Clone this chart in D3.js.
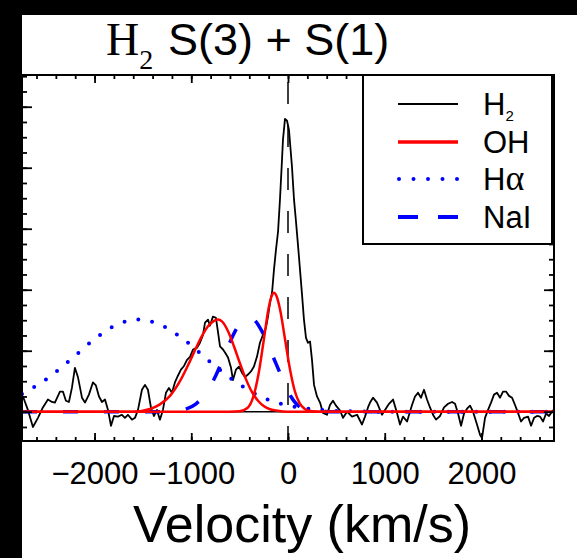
<!DOCTYPE html>
<html>
<head>
<meta charset="utf-8">
<script src="https://cdn.jsdelivr.net/npm/d3@7"></script>
<style>
  body { margin: 0; background: #fff; }
  svg { display: block; }
</style>
</head>
<body>
<svg id="chart" width="577" height="558"></svg>
<script>
// ---- H2 S(3)+S(1) spectrum: velocity (km/s) and normalised flux ----
const h2Vel = [-2740,-2689,-2637,-2585,-2534,-2482,-2440,-2410,-2358,-2327,-2296,-2265,-2234,-2203,-2172,-2130,-2099,-2058,-2017,-1986,-1954,-1923,-1892,-1861,-1830,-1799,-1758,-1717,-1686,-1655,-1613,-1582,-1551,-1510,-1479,-1448,-1417,-1386,-1355,-1324,-1293,-1262,-1231,-1200,-1169,-1138,-1107,-1075,-1044,-1013,-982,-941,-910,-879,-858,-827,-807,-776,-745,-724,-703,-672,-651,-620,-589,-569,-538,-507,-476,-445,-414,-383,-352,-321,-290,-259,-228,-207,-186,-165,-145,-124,-103,-83,-62,-52,-31,-10,10,21,41,62,83,103,124,145,165,186,207,228,248,269,300,331,362,403,434,465,496,538,569,610,662,714,765,796,827,848,879,920,972,1003,1044,1086,1127,1158,1189,1231,1282,1313,1344,1375,1406,1437,1468,1499,1530,1572,1613,1655,1696,1727,1758,1789,1820,1851,1882,1913,1954,1986,2006,2037,2068,2099,2130,2161,2192,2223,2254,2285,2316,2347,2378,2409,2440,2482,2513,2544,2575,2606,2637,2668,2699,2740];
const h2Flux = [0.25,0.03,-0.25,-0.10,0.07,0.20,0.16,0.15,0.33,0.33,0.18,0.16,0.39,0.72,0.57,0.23,0.15,0.28,0.48,0.43,0.25,0.16,0.20,0.03,-0.23,-0.07,-0.08,-0.05,-0.10,-0.05,-0.13,-0.10,0.03,0.36,0.44,0.36,0.07,-0.07,0.03,-0.13,0.03,0.31,0.39,0.31,0.48,0.59,0.69,0.75,0.85,0.90,1.02,1.05,1.13,1.26,1.46,1.51,1.41,1.56,1.54,1.31,1.07,1.02,0.97,0.89,0.72,0.52,0.69,0.74,0.64,0.57,0.61,0.66,0.74,0.90,1.13,1.26,1.38,1.56,1.79,1.95,2.33,2.66,2.95,3.48,4.13,4.46,4.80,4.77,4.62,4.41,4.02,3.48,3.11,2.74,2.33,1.92,1.51,1.21,1.13,1.15,0.85,0.44,0.25,0.15,-0.02,-0.05,0.11,0.18,0.10,0.02,-0.10,0.00,-0.08,-0.05,-0.21,-0.08,0.07,0.15,0.23,0.15,-0.05,0.03,0.13,0.20,-0.02,-0.21,-0.08,-0.16,0.11,0.25,0.31,0.23,0.36,0.20,0.07,-0.05,-0.13,-0.07,0.07,0.13,0.16,0.13,-0.03,-0.23,-0.03,0.05,0.10,0.00,-0.21,-0.38,-0.43,-0.10,0.03,0.15,0.28,0.31,0.23,0.33,0.33,0.26,0.23,0.11,-0.02,-0.16,-0.10,-0.08,-0.23,-0.10,-0.07,-0.08,-0.16,-0.03,-0.07,0.03];

// ---- OH profile, broad blue-shifted component ----
const oh1Vel  = [-2750,-1600,-1427,-1324,-1220,-1117,-1013,-910,-827,-765,-724,-683,-620,-558,-496,-434,-372,-310,-248,-186,-124,0,2750];
const oh1Flux = [0,0,0.045,0.12,0.26,0.50,0.83,1.18,1.40,1.49,1.51,1.48,1.32,1.07,0.79,0.53,0.32,0.18,0.09,0.04,0.02,0,0];
// ---- OH profile, narrow component ----
const oh2Vel  = [-2750,-600,-500,-420,-360,-300,-250,-200,-170,-145,-120,-80,-30,20,70,120,170,230,320,2750];
const oh2Flux = [0,0,0.006,0.06,0.24,0.66,1.18,1.70,1.89,1.95,1.90,1.66,1.18,0.70,0.34,0.14,0.05,0.01,0,0];
// ---- H-alpha profile ----
const haVel  = [-2750,-2500,-2250,-2000,-1750,-1540,-1300,-1050,-800,-550,-300,-50,200,450,700,950,1200,2750];
const haFlux = [0.29,0.53,0.85,1.19,1.44,1.51,1.41,1.15,0.81,0.50,0.26,0.12,0.05,0.017,0.005,0.001,0,0];
// ---- NaI profile ----
const naVel  = [-2750,-1400,-1200,-1050,-950,-850,-750,-650,-550,-470,-408,-350,-270,-170,-70,30,130,230,350,500,2750];
const naFlux = [0,0,0.008,0.048,0.13,0.30,0.58,0.95,1.31,1.50,1.55,1.51,1.32,0.96,0.59,0.25,0.07,0.02,0.005,0,0];

// ---- axes ----
const xMajor = [-2000,-1000,0,1000,2000];
const xMinor = d3.range(-2600, 2601, 200);
const yMajor = [0,1,2,3,4,5];
const yMinor = d3.range(-0.25, 5.51, 0.25);

const legendItems = ["H2","OH","Hα","NaI"];

const svg = d3.select("#chart");
const x = d3.scaleLinear().domain([-2750, 2750]).range([22, 554]);
const y = d3.scaleLinear().domain([-0.48, 5.52]).range([441, 75]);

const zip = (vs, fs) => vs.map((v, i) => [v, fs[i]]);
const rawLine = d3.line().x(d => x(d[0])).y(d => y(d[1]));
const smoothLine = d3.line().x(d => x(d[0])).y(d => y(d[1])).curve(d3.curveMonotoneX);

svg.append("rect").attr("x", 0).attr("y", 0).attr("width", 577).attr("height", 558).attr("fill", "#fff");

const plot = svg.append("g");

// zero velocity marker
plot.append("line")
  .attr("x1", x(0)).attr("x2", x(0)).attr("y1", 75).attr("y2", 441)
  .attr("stroke", "#000").attr("stroke-width", 1.5)
  .attr("stroke-dasharray", "22 21").attr("stroke-dashoffset", 36);

// continuum level
plot.append("line")
  .attr("x1", x(-2750)).attr("x2", x(2750)).attr("y1", y(0)).attr("y2", y(0))
  .attr("stroke", "#000").attr("stroke-width", 1.5);

// observed H2 spectrum
plot.append("path").datum(zip(h2Vel, h2Flux))
  .attr("d", rawLine).attr("fill", "none")
  .attr("stroke", "#000").attr("stroke-width", 1.8).attr("stroke-linejoin", "round");

// H-alpha (dotted)
plot.append("path").datum(zip(haVel, haFlux))
  .attr("d", smoothLine).attr("fill", "none")
  .attr("stroke", "#0000ff").attr("stroke-width", 4)
  .attr("stroke-linecap", "round").attr("stroke-dasharray", "0 14");

// NaI (dashed)
plot.append("path").datum(zip(naVel, naFlux))
  .attr("d", smoothLine).attr("fill", "none")
  .attr("stroke", "#0000ff").attr("stroke-width", 3.5)
  .attr("stroke-dasharray", "15 26");

// OH components
[zip(oh1Vel, oh1Flux), zip(oh2Vel, oh2Flux)].forEach(d => {
  plot.append("path").datum(d)
    .attr("d", smoothLine).attr("fill", "none")
    .attr("stroke", "#ff0000").attr("stroke-width", 2.5);
});

// ---- tick marks on all four sides, pointing inward ----
function styleAxis(g) {
  g.select(".domain").remove();
  g.selectAll(".tick line").attr("stroke", "#000").attr("stroke-width", 1.8);
}
svg.append("g").attr("transform", "translate(0,441)")
  .call(d3.axisBottom(x).tickValues(xMinor).tickSize(-4).tickFormat(""))
  .call(styleAxis);
svg.append("g").attr("transform", "translate(0,441)")
  .call(d3.axisBottom(x).tickValues(xMajor).tickSize(-8).tickPadding(21)
        .tickFormat(d3.format("d")))
  .call(styleAxis)
  .call(g => g.selectAll("text").attr("font-family", "'Liberation Sans', Arial, sans-serif")
        .attr("font-size", 31).attr("fill", "#000"));
svg.append("g").attr("transform", "translate(0,75)")
  .call(d3.axisTop(x).tickValues(xMinor).tickSize(-4).tickFormat(""))
  .call(styleAxis);
svg.append("g").attr("transform", "translate(0,75)")
  .call(d3.axisTop(x).tickValues(xMajor).tickSize(-8).tickFormat(""))
  .call(styleAxis);
svg.append("g").attr("transform", "translate(22,0)")
  .call(d3.axisLeft(y).tickValues(yMinor).tickSize(-5).tickFormat(""))
  .call(styleAxis);
svg.append("g").attr("transform", "translate(22,0)")
  .call(d3.axisLeft(y).tickValues(yMajor).tickSize(-10).tickFormat(""))
  .call(styleAxis);
svg.append("g").attr("transform", "translate(554,0)")
  .call(d3.axisRight(y).tickValues(yMinor).tickSize(-5).tickFormat(""))
  .call(styleAxis);
svg.append("g").attr("transform", "translate(554,0)")
  .call(d3.axisRight(y).tickValues(yMajor).tickSize(-10).tickFormat(""))
  .call(styleAxis);

// frame
svg.append("rect").attr("x", 22).attr("y", 75).attr("width", 532).attr("height", 366)
  .attr("fill", "none").attr("stroke", "#000").attr("stroke-width", 2);

// ---- legend ----
const sans = "'Liberation Sans', Arial, Helvetica, sans-serif";
const serif = "'Liberation Serif', 'Times New Roman', serif";
const lg = svg.append("g");
lg.append("rect").attr("x", 363).attr("y", 75).attr("width", 189).attr("height", 169)
  .attr("fill", "#fff").attr("stroke", "#000").attr("stroke-width", 2);
const rowY = [104, 142, 179, 217];
const lx0 = 398, lx1 = 458;
lg.append("line").attr("x1", lx0).attr("x2", lx1).attr("y1", rowY[0]).attr("y2", rowY[0])
  .attr("stroke", "#000").attr("stroke-width", 2);
lg.append("line").attr("x1", lx0).attr("x2", lx1).attr("y1", rowY[1]).attr("y2", rowY[1])
  .attr("stroke", "#ff0000").attr("stroke-width", 3.5);
lg.append("line").attr("x1", lx0 + 1).attr("x2", lx1).attr("y1", rowY[2]).attr("y2", rowY[2])
  .attr("stroke", "#0000ff").attr("stroke-width", 4).attr("stroke-linecap", "round")
  .attr("stroke-dasharray", "0 14.5");
lg.append("line").attr("x1", lx0).attr("x2", lx1).attr("y1", rowY[3]).attr("y2", rowY[3])
  .attr("stroke", "#0000ff").attr("stroke-width", 4).attr("stroke-dasharray", "20 20");

const lt = lg.selectAll("text.leg").data(legendItems).join("text")
  .attr("class", "leg")
  .attr("x", 483).attr("y", (d, i) => rowY[i] + 11)
  .attr("font-family", sans).attr("font-size", 31).attr("fill", "#000");
lt.each(function(d) {
  const t = d3.select(this);
  if (d === "H2") {
    t.append("tspan").text("H");
    t.append("tspan").attr("font-size", 15).attr("dy", 6).text("2");
  } else if (d === "Hα") {
    t.append("tspan").text("H");
    t.append("tspan").attr("font-family", serif).attr("font-size", 36).text("α");
  } else {
    t.text(d);
  }
});

// ---- titles ----
const title = svg.append("text").attr("x", 106).attr("y", 55).attr("fill", "#000");
title.append("tspan").attr("font-family", serif).attr("font-size", 46).text("H");
title.append("tspan").attr("font-family", serif).attr("font-size", 28).attr("dy", 14).text("2");
svg.append("text").attr("x", 168).attr("y", 55)
  .attr("font-family", sans).attr("font-size", 45).attr("fill", "#000")
  .text("S(3) + S(1)");

svg.append("text").attr("x", 302).attr("y", 542).attr("text-anchor", "middle")
  .attr("font-family", sans).attr("font-size", 52).attr("fill", "#000")
  .text("Velocity (km/s)");

// dark page surround
svg.append("rect").attr("x", 0).attr("y", 0).attr("width", 577).attr("height", 15).attr("fill", "#000");
svg.append("rect").attr("x", 0).attr("y", 0).attr("width", 22).attr("height", 558).attr("fill", "#000");
</script>
</body>
</html>
